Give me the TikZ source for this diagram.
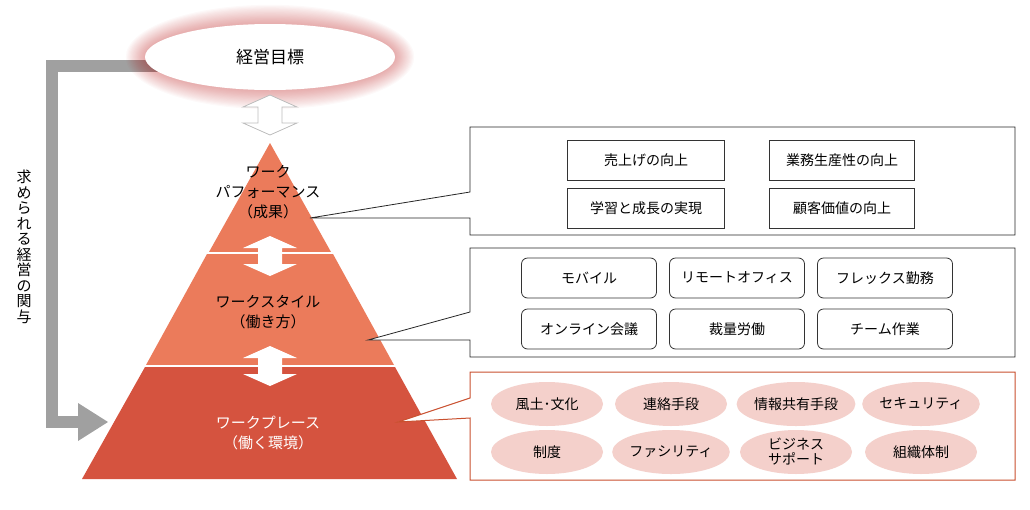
\documentclass[tikz,border=0pt]{standalone}
\usepackage{fontspec}
\setmainfont{Noto Sans CJK JP}
\usetikzlibrary{shapes.geometric}
\definecolor{tA}{HTML}{EB7B5B}
\definecolor{tC}{HTML}{D5533F}
\definecolor{pk}{HTML}{F4D0CB}
\definecolor{og}{HTML}{C9502F}
\definecolor{gr}{HTML}{A0A0A0}
\tikzset{
  sq/.style={draw=black!80,line width=0.8pt,minimum width=157pt,minimum height=40pt,font=\fontsize{14pt}{16pt}\selectfont},
  rr/.style={draw=black!80,line width=0.8pt,rounded corners=6pt,minimum width=135pt,minimum height=40pt,font=\fontsize{14pt}{16pt}\selectfont},
  el/.style={ellipse,fill=pk,minimum width=112pt,minimum height=44pt,inner sep=0pt,align=center,font=\fontsize{14pt}{15pt}\selectfont},
  tier/.style={align=center,font=\fontsize{15pt}{20pt}\selectfont},
  box/.style={draw=black!85,line width=0.8pt,fill=white}
}
\newcommand{\dblarrow}[3]{% x, y center, style
  \path[#3] (#1,#2-20) -- (#1+27,#2-8) -- (#1+12,#2-8) -- (#1+12,#2+8) -- (#1+27,#2+8) -- (#1,#2+20) -- (#1-27,#2+8) -- (#1-12,#2+8) -- (#1-12,#2-8) -- (#1-27,#2-8) -- cycle;}
\begin{document}
\begin{tikzpicture}[x=1pt,y=-1pt]
\useasboundingbox (0,0) rectangle (1030,509);
% gray feedback arrow
\coordinate (gs) at (160,66);
\coordinate (gc1) at (52,66);
\coordinate (gc2) at (52,422);
\coordinate (ge) at (80,422);
\draw[gr,line width=12pt] (gs) -- (gc1) -- (gc2) -- (ge);
\fill[gr] (78,403) -- (108,422) -- (78,441) -- cycle;
\node[align=center,font=\fontsize{15pt}{15.5pt}\selectfont] (vt) at (24,247) {求\\め\\ら\\れ\\る\\経\\営\\の\\関\\与};
% ellipse glow
\foreach \i in {1,...,16}{
  \fill[red!70!black,opacity=0.025] (270,57) ellipse ({125+1.2*\i} and {33+1.2*\i});
}
\node[ellipse,fill=white,minimum width=250pt,minimum height=66pt,font=\fontsize{17pt}{18pt}\selectfont] (goal) at (270,57) {経営目標};
% pyramid
\fill[tA] (270,143) -- (331,252) -- (209,252) -- cycle;
\fill[tA] (207,254) -- (333,254) -- (394,365) -- (146,365) -- cycle;
\fill[tC] (145,367) -- (395,367) -- (457,479) -- (82,479) -- cycle;
\dblarrow{270}{115}{draw=gr!70,fill=white,line width=0.8pt}
\dblarrow{270}{256}{fill=white}
\dblarrow{270}{366}{fill=white}
\draw[white,line width=2.5pt] (206,253) -- (334,253);
\draw[white,line width=2.5pt] (145,366) -- (395,366);
\node[tier] (t1) at (268,192) {ワーク\\パフォーマンス\\（成果）};
\node[tier] (t2) at (268,312) {ワークスタイル\\（働き方）};
\node[tier,white] (t3) at (268,433) {ワークプレース\\（働く環境）};
% callout boxes
\coordinate (p1) at (310,218);
\coordinate (p2) at (368,340);
\coordinate (p3) at (398,422);
\draw[box] (470,127) -- (1015,127) -- (1015,235) -- (470,235) -- (470,218) -- (p1) -- (470,192) -- cycle;
\draw[box] (470,248) -- (1015,248) -- (1015,357) -- (470,357) -- (470,340) -- (p2) -- (470,312) -- cycle;
\draw[draw=og,line width=1pt,fill=white] (470,372) -- (1015,372) -- (1015,480) -- (470,480) -- (470,418) -- (p3) -- (470,398) -- cycle;
\node[sq] (b1) at (646,160) {売上げの向上};
\node[sq,minimum width=145pt] (b2) at (842,160) {業務生産性の向上};
\node[sq] (b3) at (646,208) {学習と成長の実現};
\node[sq,minimum width=145pt] (b4) at (842,208) {顧客価値の向上};
\node[rr] (c1) at (589,278) {モバイル};
\node[rr] (c2) at (737,278) {リモートオフィス};
\node[rr] (c3) at (885,278) {フレックス勤務};
\node[rr] (c4) at (589,329) {オンライン会議};
\node[rr] (c5) at (737,329) {裁量労働};
\node[rr] (c6) at (885,329) {チーム作業};
\node[el] (e1) at (547,404) {風土･文化};
\node[el] (e2) at (671,404) {連絡手段};
\node[el] (e3) at (796,404) {情報共有手段};
\node[el] (e4) at (921,404) {セキュリティ};
\node[el] (e5) at (547,452) {制度};
\node[el] (e6) at (671,452) {ファシリティ};
\node[el] (e7) at (796,452) {ビジネス\\サポート};
\node[el] (e8) at (921,452) {組織体制};
\end{tikzpicture}
\end{document}
